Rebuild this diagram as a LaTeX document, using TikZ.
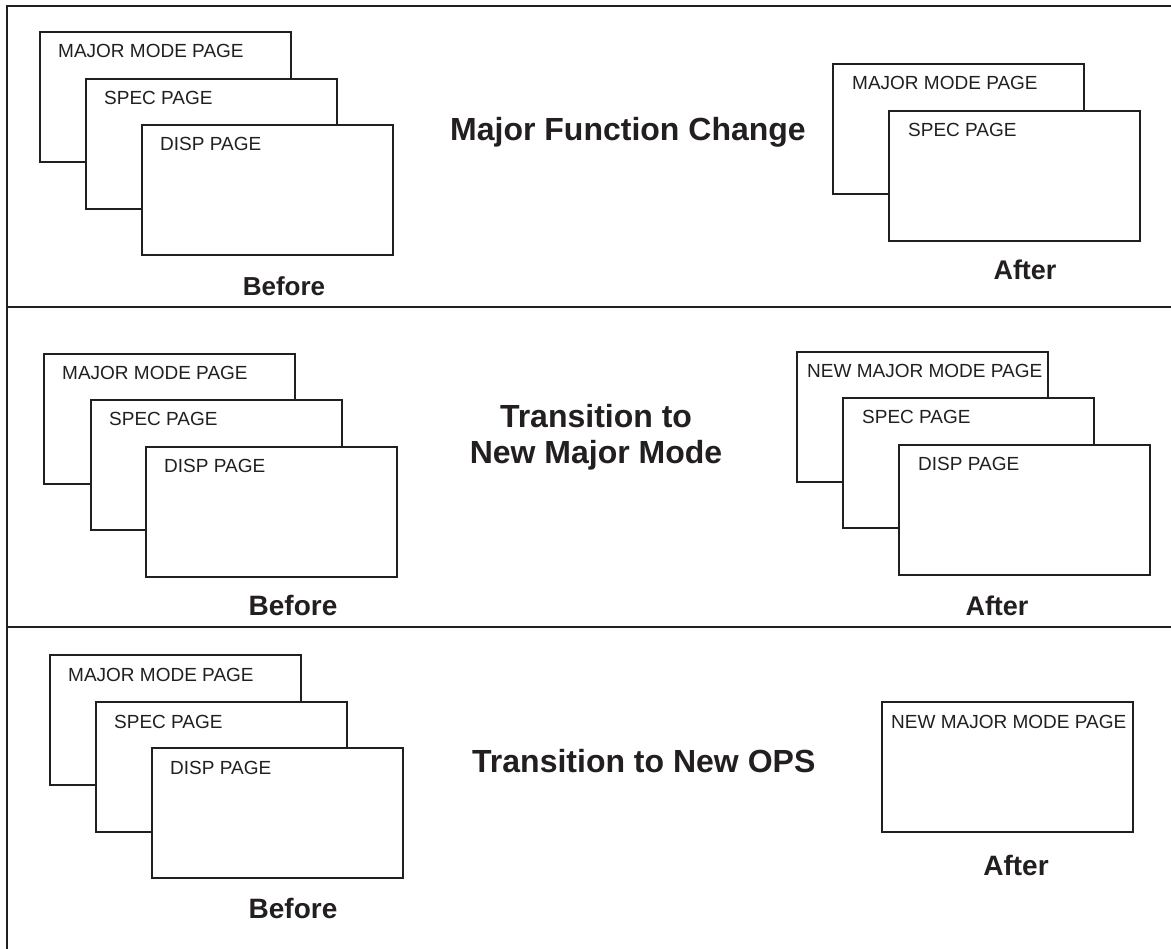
\documentclass[tikz,border=0pt]{standalone}
\usepackage{fontspec}
\setmainfont{Liberation Sans}
\usetikzlibrary{calc}
\definecolor{ink}{RGB}{35,31,32}
\tikzset{
  x=1pt, y=-1pt,
  page/.style={draw=ink, line width=2pt, fill=white, minimum width=251pt,
    minimum height=130pt, anchor=north west, inner sep=0pt, outer sep=0pt},
  pagetext/.style={anchor=base west, inner sep=0pt, text=ink,
    font=\fontsize{19}{22}\selectfont},
  title/.style={anchor=base, inner sep=0pt, text=ink,
    font=\bfseries\fontsize{32}{36}\selectfont},
  caption/.style={anchor=base, inner sep=0pt, text=ink,
    font=\bfseries\fontsize{28}{32}\selectfont},
  rule/.style={draw=ink, line width=2pt},
}
% a display page: name, x, y, text offset x, label
\newcommand\mfdpage[5]{%
  \node[page] (#1) at (#2,#3) {};
  \node[pagetext] (#1t) at ($(#1.north west)+(#4,26)$) {#5};%
}
\begin{document}
\begin{tikzpicture}
\useasboundingbox (0,0) rectangle (1171,949);
\fill[white] (0,0) rectangle (1171,949);

% frame and panel dividers
\coordinate (tl) at (7,6);
\coordinate (tr) at (1171,6);
\coordinate (bl) at (7,949);
\coordinate (d1l) at (7,307);
\coordinate (d1r) at (1171,307);
\coordinate (d2l) at (7,627);
\coordinate (d2r) at (1171,627);
\draw[rule] (tr) -- (tl) -- (bl);
\draw[rule] (d1l) -- (d1r);
\draw[rule] (d2l) -- (d2r);

% panel 1: major function change
\mfdpage{a1}{40}{32}{18}{MAJOR MODE PAGE}
\mfdpage{a2}{86}{79}{18}{SPEC PAGE}
\mfdpage{a3}{142}{125}{18}{DISP PAGE}
\node[caption, font=\bfseries\fontsize{26}{30}\selectfont] (abefore) at (284,296) {Before};
\node[title] (atitle) at (628,141) {Major Function Change};
\mfdpage{b1}{833}{64}{19}{MAJOR MODE PAGE}
\mfdpage{b2}{889}{111}{19}{SPEC PAGE}
\node[caption, font=\bfseries\fontsize{27}{30}\selectfont] (bafter) at (1025,280) {After};

% panel 2: transition to new major mode
\mfdpage{c1}{44}{354}{18}{MAJOR MODE PAGE}
\mfdpage{c2}{91}{400}{18}{SPEC PAGE}
\mfdpage{c3}{146}{447}{18}{DISP PAGE}
\node[caption] (cbefore) at (293,615) {Before};
\node[title] (ctitle1) at (596,428) {Transition to};
\node[title] (ctitle2) at (596,464) {New Major Mode};
\mfdpage{d1}{797}{352}{10}{NEW MAJOR MODE PAGE}
\mfdpage{d2}{843}{398}{19}{SPEC PAGE}
\mfdpage{d3}{899}{445}{19}{DISP PAGE}
\node[caption, font=\bfseries\fontsize{27}{30}\selectfont] (dafter) at (997,615) {After};

% panel 3: transition to new OPS
\mfdpage{e1}{50}{655}{18}{MAJOR MODE PAGE}
\mfdpage{e2}{96}{702}{18}{SPEC PAGE}
\mfdpage{e3}{152}{748}{18}{DISP PAGE}
\node[caption] (ebefore) at (293,918) {Before};
\node[title, anchor=base west] (etitle) at (472,772) {Transition to New OPS};
\mfdpage{f1}{882}{702}{9}{NEW MAJOR MODE PAGE}
\node[caption] (fafter) at (1016,875) {After};
\end{tikzpicture}
\end{document}
